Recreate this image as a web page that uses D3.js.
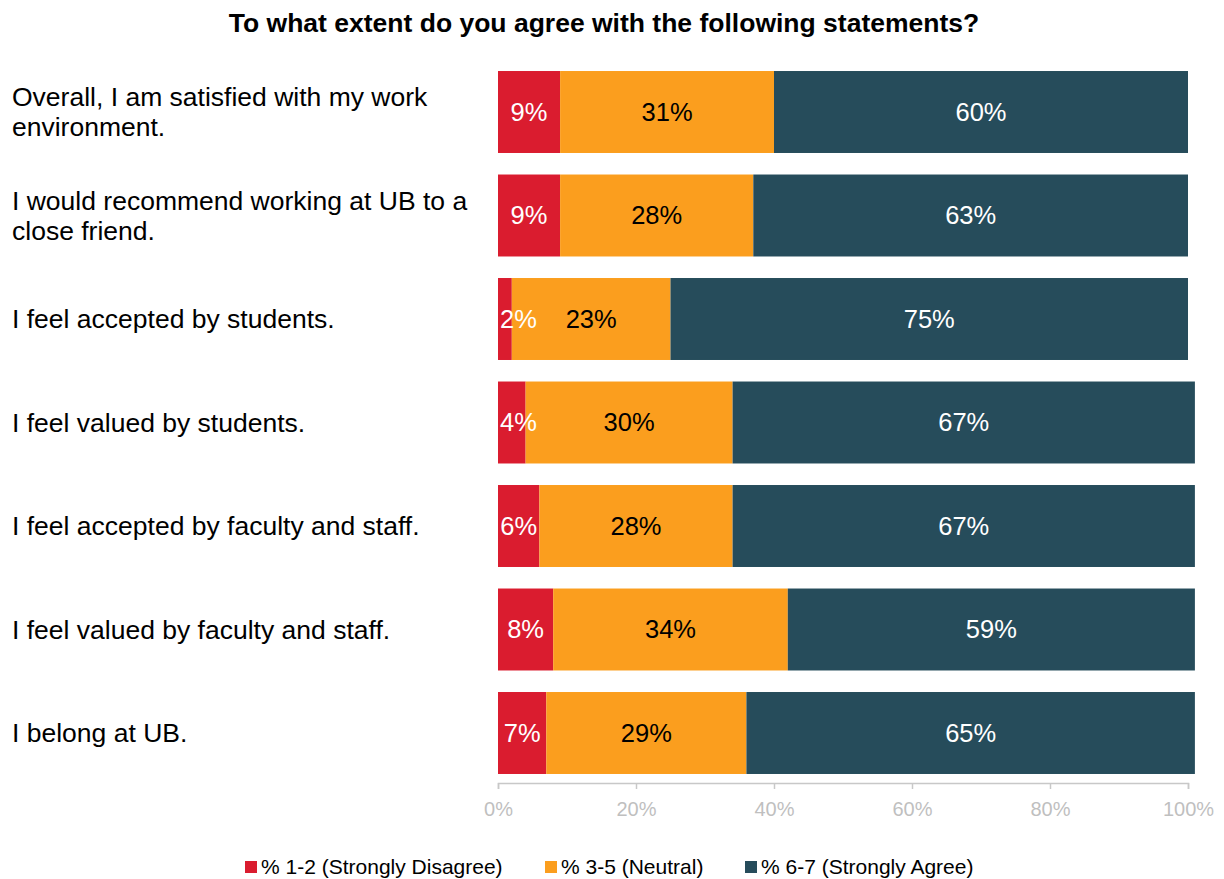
<!DOCTYPE html>
<html>
<head>
<meta charset="utf-8">
<script src="https://cdn.jsdelivr.net/npm/d3@7"></script>
<style>
  body { margin: 0; background: #fff; }
  svg { display: block; font-family: "Liberation Sans", Arial, sans-serif; }
</style>
</head>
<body>
<svg id="chart" width="1224" height="879"></svg>
<script>
// Survey statements (top to bottom), each split into display lines
const statements = [
  ["Overall, I am satisfied with my work", "environment."],
  ["I would recommend working at UB to a", "close friend."],
  ["I feel accepted by students."],
  ["I feel valued by students."],
  ["I feel accepted by faculty and staff."],
  ["I feel valued by faculty and staff."],
  ["I belong at UB."]
];
const seriesNames = ["% 1-2 (Strongly Disagree)", "% 3-5 (Neutral)", "% 6-7 (Strongly Agree)"];
const disagree = [9, 9, 2, 4, 6, 8, 7];
const neutral  = [31, 28, 23, 30, 28, 34, 29];
const agree    = [60, 63, 75, 67, 67, 59, 65];
const tickValues = [0, 20, 40, 60, 80, 100];
const colors = ["#DA1C2F", "#FB9E1E", "#264C5B"];
const labelColors = ["#ffffff", "#000000", "#ffffff"];

const svg = d3.select("#chart");
const series = [disagree, neutral, agree];

const x = d3.scaleLinear().domain([0, 100]).range([498, 1188]);
const y = d3.scaleBand()
  .domain(d3.range(statements.length))
  .range([60.25, 784.75])
  .paddingInner(0.208)
  .paddingOuter(0.104);

// Title
svg.append("text")
  .attr("x", 604).attr("y", 32)
  .attr("text-anchor", "middle")
  .attr("font-weight", "bold")
  .attr("font-size", 26.5)
  .text("To what extent do you agree with the following statements?");

// Stacked segments
const rows = statements.map((s, i) => {
  let acc = 0;
  return series.map((vals, k) => {
    const seg = { row: i, k, x0: acc, x1: acc + vals[i], v: vals[i] };
    acc += vals[i];
    return seg;
  });
}).flat();

svg.append("g").selectAll("rect").data(rows).join("rect")
  .attr("x", d => x(d.x0))
  .attr("y", d => y(d.row))
  .attr("width", d => x(d.x1) - x(d.x0))
  .attr("height", y.bandwidth())
  .attr("fill", d => colors[d.k]);

// Value labels, drawn above all segments
svg.append("g").selectAll("text").data(rows).join("text")
  .attr("y", d => y(d.row) + y.bandwidth() / 2)
  .attr("dy", "0.35em")
  .attr("text-anchor", "middle")
  .attr("font-size", 25.5)
  .attr("fill", d => labelColors[d.k])
  .text(d => d.v + "%")
  .attr("x", function(d) {
    // keep narrow-segment labels from spilling past the bar's left edge
    const half = this.getComputedTextLength() / 2;
    return Math.max((x(d.x0) + x(d.x1)) / 2, x(0) + half + 2);
  });

// Category labels
const cat = svg.append("g").selectAll("text").data(statements).join("text")
  .attr("x", 12)
  .attr("font-size", 26.5)
  .attr("fill", "#000");
cat.each(function(lines, i) {
  const lh = 30;
  const cy = y(i) + y.bandwidth() / 2 - (lines.length - 1) * lh / 2;
  d3.select(this).selectAll("tspan").data(lines).join("tspan")
    .attr("x", 12)
    .attr("y", (d, j) => cy + j * lh)
    .attr("dy", "0.35em")
    .text(d => d);
});

// X axis
const axis = svg.append("g")
  .attr("transform", "translate(0,783)")
  .call(d3.axisBottom(x).tickValues(tickValues).tickSize(6).tickPadding(13).tickFormat(d => d + "%"));
axis.select(".domain").attr("stroke", "#c8c8c8").attr("stroke-width", 1.5);
axis.selectAll(".tick line").attr("stroke", "#c8c8c8").attr("stroke-width", 1.5);
axis.selectAll(".tick text")
  .attr("fill", "#bfbfbf")
  .attr("font-size", 20)
  .attr("font-family", "\"Liberation Sans\", Arial, sans-serif");

// Legend
const legendX = [245, 545, 745];
const legend = svg.append("g").selectAll("g").data(seriesNames).join("g")
  .attr("transform", (d, i) => `translate(${legendX[i]},861)`);
legend.append("rect").attr("width", 12).attr("height", 12).attr("fill", (d, i) => colors[i]);
legend.append("text")
  .attr("x", 16).attr("y", 6).attr("dy", "0.35em")
  .attr("font-size", 21)
  .text(d => d);
</script>
</body>
</html>
